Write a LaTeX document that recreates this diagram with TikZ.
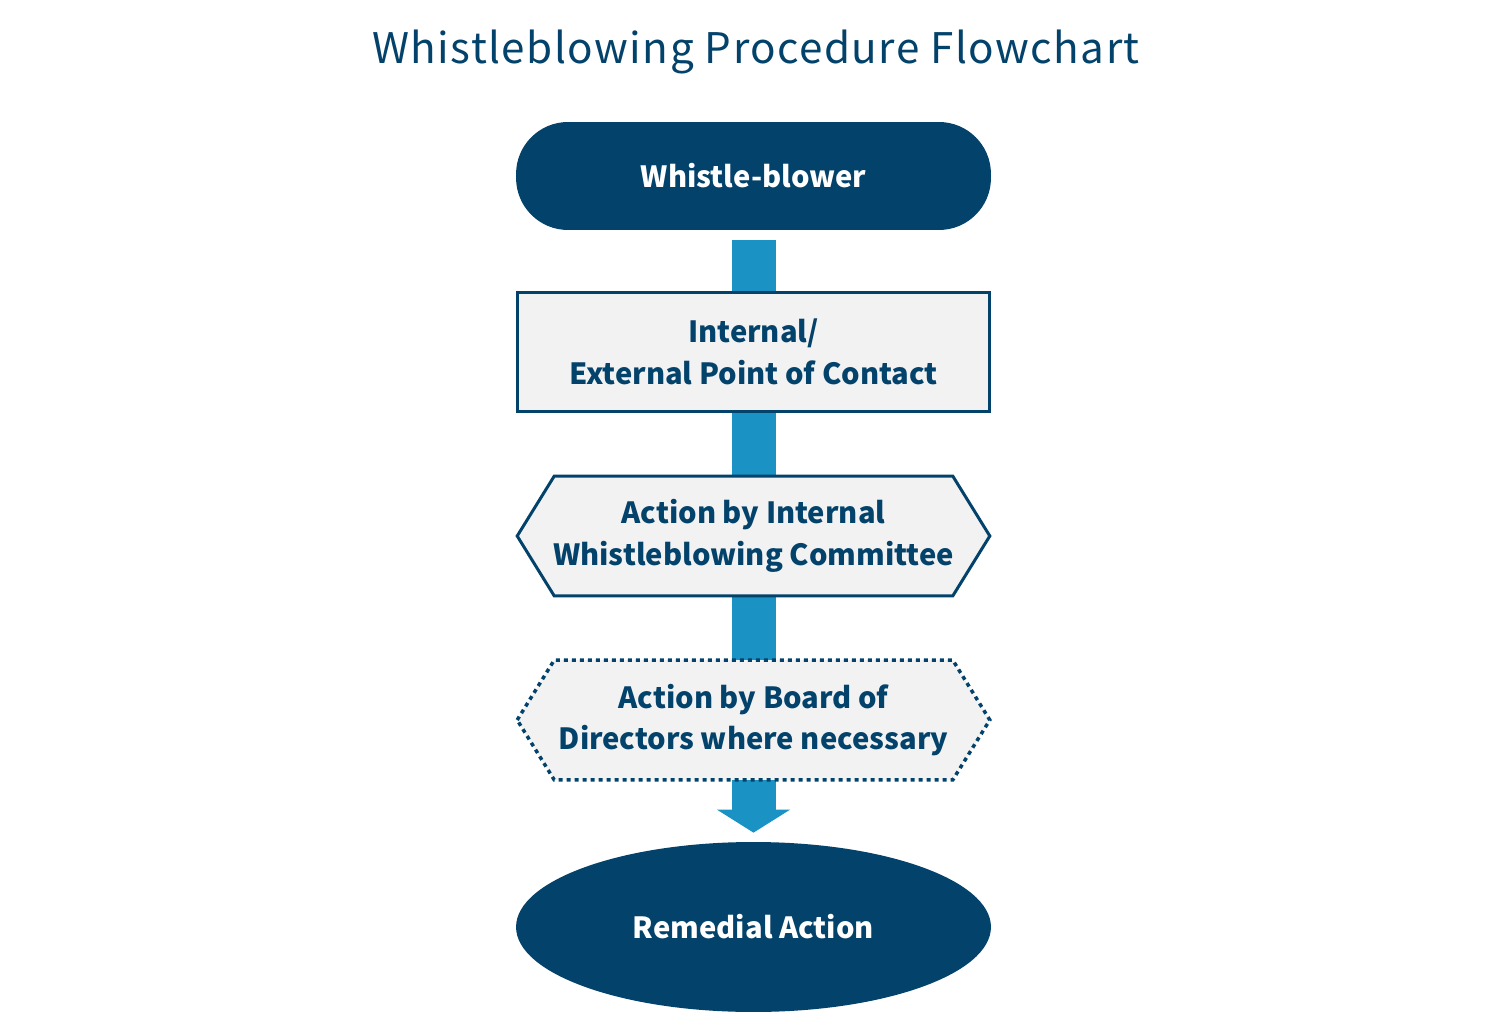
\documentclass[tikz,border=0pt]{standalone}
\usepackage{fontspec}
\setmainfont{Noto Sans CJK JP}
\usetikzlibrary{shapes.geometric,arrows.meta,backgrounds}
\definecolor{navy}{HTML}{03426A}
\definecolor{flowblue}{HTML}{1A93C4}
\definecolor{boxgray}{HTML}{F2F2F2}

\begin{document}
\begin{tikzpicture}[x=0.02cm, y=-0.02cm, every node/.style={align=center, inner sep=0pt, text=navy, font=\bfseries\fontsize{16.6}{23.8}\selectfont}]
	\tikzset{startbox/.style={fill=navy, text=white, rounded corners=1.04cm, minimum width=9.5cm, minimum height=2.16cm}}
	\tikzset{contactbox/.style={draw=navy, fill=boxgray, line width=0.06cm, minimum width=9.44cm, minimum height=2.38cm}}
	\tikzset{hexnode/.style={minimum width=9.44cm, minimum height=2.38cm}}
	\tikzset{hexline/.style={draw=navy, fill=boxgray, line width=0.06cm}}
	\tikzset{hexdots/.style={hexline, line width=0.07cm, dash pattern=on 0.08cm off 0.08cm}}
	\tikzset{endbox/.style={ellipse, fill=navy, text=white, minimum width=9.5cm, minimum height=3.4cm}}
	\useasboundingbox (0,0) rectangle (1510,1026);
	\node[font=\addfontfeatures{LetterSpace=3.5}\fontsize{24}{28}\selectfont] (title) at (756,52) {Whistleblowing Procedure Flowchart};
	\node[startbox] (wb) at (753.5,176) {Whistle-blower};
	\node[contactbox] (poc) at (753.5,352) {Internal/\\External Point of Contact};
	\node[hexnode] (cmt) at (753.5,536) {Action by Internal\\Whistleblowing Committee};
	\node[hexnode] (dir) at (753.5,720) {Action by Board of\\Directors where necessary};
	\node[endbox] (rem) at (753.5,927) {Remedial Action};
	\begin{pgfonlayer}{background}
	\draw[flowblue, line width=0.88cm, -{Triangle[width=1.44cm, length=0.46cm]}] ([yshift=-0.2cm]wb.south) -- ([yshift=0.18cm]rem.north);
	\foreach \n/\s in {cmt/hexline, dir/hexdots}
	\draw[\s] (\n.west) -- ([xshift=0.74cm]\n.north west) -- ([xshift=-0.74cm]\n.north east) -- (\n.east) -- ([xshift=-0.74cm]\n.south east) -- ([xshift=0.74cm]\n.south west) -- cycle;
	\end{pgfonlayer}
\end{tikzpicture}
\end{document}
